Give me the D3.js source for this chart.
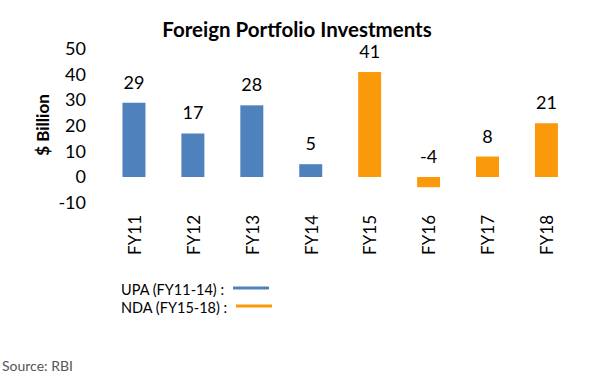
<!DOCTYPE html>
<html><head><meta charset="utf-8">
<script src="https://cdn.jsdelivr.net/npm/d3@7"></script>
<style>
body{margin:0;background:#fff;}
text{font-family:Lato,"Open Sans",sans-serif;fill:#000;}
</style></head>
<body>
<svg id="c" width="601" height="388"></svg>
<script>
const categories = ["FY11","FY12","FY13","FY14","FY15","FY16","FY17","FY18"];
const values = [29,17,28,5,41,-4,8,21];
const groups = ["UPA","UPA","UPA","UPA","NDA","NDA","NDA","NDA"];
const yTicks = [50,40,30,20,10,0,-10];
const legendLabels = ["UPA (FY11-14) :","NDA (FY15-18)  :"];
const legendKeys = ["UPA","NDA"];
const colors = {UPA:"#4F81BD", NDA:"#FA9A0A"};

const svg = d3.select("#c");
const x = d3.scaleBand().domain(categories).range([104.5,575.9]).paddingInner(0.61).paddingOuter(0.305);
const y = d3.scaleLinear().domain([-10,50]).range([202.6,49]);

svg.append("text").attr("x",297).attr("y",37).attr("text-anchor","middle")
  .style("font-weight","bold").style("font-size","20.5px").text("Foreign Portfolio Investments");

const ya = svg.append("g").attr("transform","translate(90,0)")
  .call(d3.axisLeft(y).tickValues(yTicks).tickSize(0).tickPadding(4).tickFormat(d=>String(d)));
ya.select(".domain").remove();
ya.selectAll("text").style("font-size","18px").style("font-family","Lato,'Open Sans',sans-serif").attr("fill","#000");

svg.append("text").attr("transform","translate(49,125) rotate(-90)").attr("text-anchor","middle")
  .style("font-weight","bold").style("font-size","17px").text("$ Billion");

svg.selectAll("rect.bar").data(values).join("rect").attr("class","bar")
  .attr("x",(d,i)=>x(categories[i])).attr("width",x.bandwidth())
  .attr("y",d=>y(Math.max(0,d))).attr("height",d=>Math.abs(y(d)-y(0)))
  .attr("fill",(d,i)=>colors[groups[i]]);

svg.selectAll("text.val").data(values).join("text").attr("class","val")
  .attr("x",(d,i)=>x(categories[i])+x.bandwidth()/2)
  .attr("y",d=>y(Math.max(0,d))-14).attr("text-anchor","middle")
  .style("font-size","18px").text(d=>String(d));

svg.selectAll("text.xl").data(categories).join("text").attr("class","xl")
  .attr("transform",d=>`translate(${x(d)+x.bandwidth()/2},215) rotate(-90)`)
  .attr("text-anchor","end").attr("dy","0.4em").style("font-size","17px").text(d=>d);

const lg = svg.append("g");
legendLabels.forEach((t,i)=>{
  lg.append("text").attr("x",121).attr("y",295+i*18).style("font-size","14.5px").text(t);
  lg.append("line").attr("x1",233+i*3).attr("x2",269+i*3).attr("y1",288+i*18).attr("y2",288+i*18)
    .attr("stroke",colors[legendKeys[i]]).attr("stroke-width",3);
});

svg.append("text").attr("x",2).attr("y",371).style("font-size","14px").style("fill","#555").text("Source: RBI");
</script>
</body></html>
